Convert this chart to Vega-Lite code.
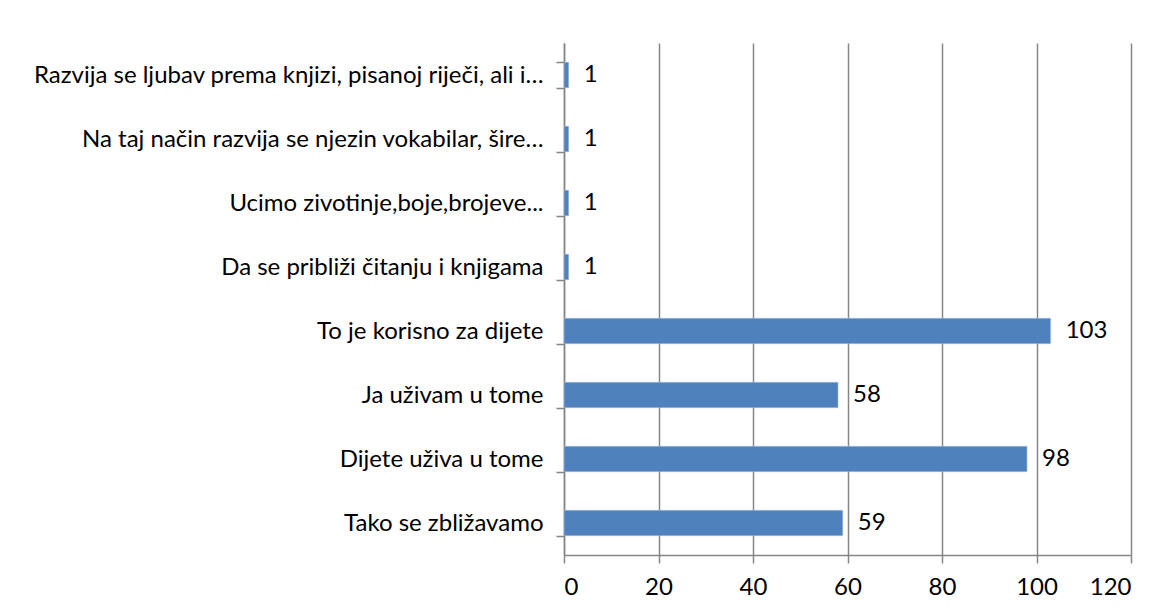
{
  "$schema": "https://vega.github.io/schema/vega-lite/v6.json",
  "autosize": {"type": "none"},
  "padding": {"left": 564, "top": 43, "right": 38, "bottom": 60},
  "width": 567,
  "height": 512,
  "background": "white",
  "config": {
    "view": {"stroke": null},
    "font": "Lato",
    "axis": {"labelFont": "Lato", "labelFontSize": 24, "labelColor": "#000000", "domainColor": "#868686", "tickColor": "#868686", "gridColor": "#868686", "title": null}
  },
  "data": {
    "values": [
      {"category": "Razvija se ljubav prema knjizi, pisanoj riječi, ali i…", "count": 1},
      {"category": "Na taj način razvija se njezin vokabilar, šire…", "count": 1},
      {"category": "Ucimo zivotinje,boje,brojeve...", "count": 1},
      {"category": "Da se približi čitanju i knjigama", "count": 1},
      {"category": "To je korisno za dijete", "count": 103},
      {"category": "Ja uživam u tome", "count": 58},
      {"category": "Dijete uživa u tome", "count": 98},
      {"category": "Tako se zbližavamo", "count": 59}
    ]
  },
  "encoding": {
    "y": {
      "field": "category",
      "type": "nominal",
      "sort": null,
      "scale": {"paddingInner": 0.6, "paddingOuter": 0.3},
      "axis": {"tickBand": "extent", "tickSize": 8, "labelPadding": 13, "labelLimit": 0, "grid": false, "domainWidth": 1.5, "tickWidth": 1.5}
    },
    "x": {
      "field": "count",
      "type": "quantitative",
      "scale": {"domain": [0, 120], "nice": false},
      "axis": {"values": [0, 20, 40, 60, 80, 100, 120], "grid": true, "gridWidth": 1.5, "tickSize": 8, "labelPadding": 12, "domainWidth": 1.5, "tickWidth": 1.5}
    }
  },
  "layer": [
    {"mark": {"type": "bar", "color": "#4F81BD", "stroke": "#b9cde5", "strokeWidth": 0.5}},
    {"mark": {"type": "text", "align": "left", "baseline": "middle", "dx": 15, "fontSize": 24, "font": "Lato", "color": "#000000"}, "encoding": {"text": {"field": "count", "type": "quantitative"}}}
  ]
}
